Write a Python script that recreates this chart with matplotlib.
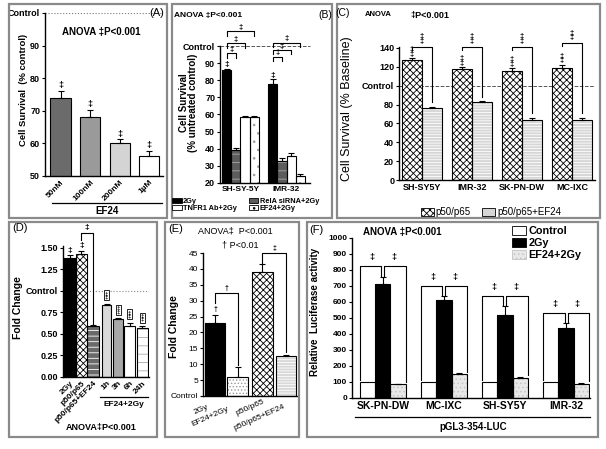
import numpy as np
import matplotlib
matplotlib.use("Agg")
import matplotlib.pyplot as plt
from matplotlib.patches import Rectangle, Patch
from matplotlib.lines import Line2D

plt.rcParams['font.family'] = ['Liberation Sans', 'DejaVu Sans']
plt.rcParams['font.weight'] = 'bold'
plt.rcParams['hatch.linewidth'] = 0.6
plt.rcParams['axes.linewidth'] = 1.0

W, H = 606, 449

# ---- data
a_labels = ['50nM', '100nM', '200nM', '1µM']
a_vals = [74, 68, 60.2, 56]
a_err = [2.0, 2.2, 1.0, 1.8]

b_groups = ['SH-SY-5Y', 'IMR-32']
b_series = ['2Gy', 'RelA siRNA+2Gy', 'TNFR1 Ab+2Gy', 'EF24+2Gy']
b_vals = [[86, 78], [39, 33], [58.8, 36], [58.7, 24]]
b_err = [[0.5, 2.5], [1.5, 1.5], [0.3, 1.8], [0.6, 1.0]]

c_groups = ['SH-SY5Y', 'IMR-32', 'SK-PN-DW', 'MC-IXC']
c_p65 = [127, 118, 115.5, 119]
c_p65_err = [2, 1.5, 3, 3]
c_ef24 = [76, 83, 63.5, 64]
c_ef24_err = [1.5, 0.5, 2, 2]

d_labels = ['2Gy', 'p50/p65', 'p50/p65+EF24', '1h', '3h', '6h', '24h']
d_vals = [1.38, 1.43, 0.59, 0.83, 0.67, 0.59, 0.57]
d_err = [0.03, 0.03, 0.01, 0.02, 0.01, 0.04, 0.02]

e_labels = ['2Gy', 'EF24+2Gy', 'p50/p65', 'p50/p65+EF24']
e_vals = [23, 6, 39, 12.7]
e_err = [2.5, 3, 2.5, 0.3]

f_groups = ['SK-PN-DW', 'MC-IXC', 'SH-SY5Y', 'IMR-32']
f_control = [100, 100, 100, 100]
f_2gy = [710, 610, 520, 440]
f_2gy_err = [45, 25, 55, 30]
f_ef24 = [85, 150, 128, 85]
f_ef24_err = [5, 5, 5, 10]

fig = plt.figure(figsize=(W / 100, H / 100), dpi=100)


def px_axes(x0, y0, x1, y1):
    return fig.add_axes([x0 / W, 1 - y1 / H, (x1 - x0) / W, (y1 - y0) / H])


def ftext(x, y, s, **kw):
    kw.setdefault('ha', 'center')
    kw.setdefault('va', 'center')
    fig.text(x / W, 1 - y / H, s, **kw)


def fline(x0, x1, y):
    fig.add_artist(Line2D([x0 / W, x1 / W], [1 - y / H, 1 - y / H], color='k', lw=0.9))


def panel_box(x0, y0, x1, y1):
    fig.add_artist(Rectangle((x0 / W, 1 - y1 / H), (x1 - x0) / W, (y1 - y0) / H,
                             fill=False, ec='#8a8a8a', lw=1.6))


def style(ax, size=6.5):
    for s in ['top', 'right']:
        ax.spines[s].set_visible(False)
    ax.tick_params(axis='y', length=2.5, width=0.8, labelsize=size, pad=1)
    ax.tick_params(axis='x', length=0, labelsize=size, pad=2)


def bars(ax, x, h, w, fc, hatch=None, hc='k', err=None):
    ax.bar(x, h, w, color=fc, hatch=hatch, edgecolor=hc, linewidth=0, zorder=2)
    ax.bar(x, h, w, fill=False, edgecolor='k', linewidth=0.8, zorder=3)
    if err is not None:
        ax.errorbar(x, h, yerr=[np.zeros(len(h)), err], fmt='none', ecolor='k',
                    elinewidth=0.8, capsize=2.5, capthick=0.8, zorder=4)


def bracket(ax, x0, x1, y, y0, y1, sym=None, fs=6, dy=0):
    ax.plot([x0, x0, x1, x1], [y0, y, y, y1], color='k', lw=0.8, clip_on=False)
    if sym:
        ax.text((x0 + x1) / 2, y + dy, sym, ha='center', va='bottom', fontsize=fs, clip_on=False)


CHECK = dict(fc='white', hatch='xxxxx', hc='k')

# ---------------- Panel A
panel_box(9, 4, 167, 218)
ax = px_axes(45, 13, 163, 176)
style(ax)
xa = np.arange(len(a_vals))
bars(ax, xa, a_vals, 0.68, ['#6b6b6b', '#9a9a9a', '#d4d4d4', 'white'], err=a_err)
for x, v, e in zip(xa, a_vals, a_err):
    ax.text(x, v + e + 0.3, '‡', ha='center', va='bottom', fontsize=6.5)
ax.axhline(100, color='#777', ls=':', lw=0.8, zorder=0)
ax.set_ylim(50, 100)
ax.set_xlim(-0.525, 3.47)
ax.set_yticks([50, 60, 70, 80, 90, 100], ['50', '60', '70', '80', '90', 'Control'])
ax.set_xticks(xa, a_labels, rotation=45, ha='right', rotation_mode='anchor', fontsize=6)
fline(52, 162, 203)
ftext(107, 211, 'EF24', fontsize=7)
ftext(101, 32, 'ANOVA ‡P<0.001', fontsize=7)
ftext(157, 13, '(A)', fontsize=8, weight='normal')
ftext(24, 90, 'Cell Survival  (% control)', rotation=90, fontsize=6.8)

# ---------------- Panel B
panel_box(172, 4, 332, 218)
ax = px_axes(220, 46, 310, 183)
style(ax)
b_style = [dict(fc='black'), dict(fc='#5c5c5c', hatch='--', hc='#a8a8a8'),
           dict(fc='white'), dict(fc='white', hatch='..', hc='#9a9a9a')]
for s, st in enumerate(b_style):
    bars(ax, [s, 5 + s], b_vals[s], 1.0, st['fc'], st.get('hatch'), st.get('hc', 'k'), err=b_err[s])
for g in range(2):
    ax.text(5 * g, b_vals[0][g] + b_err[0][g] + 0.5, '‡', ha='center', va='bottom', fontsize=6)
b_br = [[95.7, 101.6, 108.5], [93.7, 97.6, 102.0]]
for g in range(2):
    for k in range(3):
        y = b_br[g][k]
        bracket(ax, 5 * g, 5 * g + k + 1, y, y - 2.5, y - 2.5, '‡', fs=5.5, dy=0.3)
ax.axhline(100, color='#555', ls='--', lw=0.7, xmax=1.0, zorder=0, clip_on=False)
ax.set_ylim(20, 100)
ax.set_xlim(-0.72, 9.05)
ax.set_yticks(np.arange(20, 101, 10), [str(v) for v in range(20, 100, 10)] + ['Control'])
ax.set_xticks([1.5, 6.5], b_groups, fontsize=6)
h = [Patch(fc=st['fc'], hatch=st.get('hatch'), ec='k', lw=0.6) for st in b_style]
fig.legend([h[0], h[2], h[1], h[3]], [b_series[0], b_series[2], b_series[1], b_series[3]],
           loc='upper left', bbox_to_anchor=(172 / W, 1 - 198 / H), ncol=2, fontsize=5.3,
           frameon=False, handlelength=1.3, handleheight=0.6, labelspacing=0.05,
           columnspacing=1.6, borderpad=0, handletextpad=0.2, borderaxespad=0)
ftext(174, 15, 'ANOVA ‡P<0.001', fontsize=6, ha='left')
ftext(325, 15, '(B)', fontsize=7.5, weight='normal')
ftext(184, 103, 'Cell Survival', rotation=90, fontsize=7)
ftext(193, 103, '(% untreated control)', rotation=90, fontsize=7)

# ---------------- Panel C
panel_box(337, 4, 600, 218)
ax = px_axes(399, 47, 595, 180)
style(ax)
xc = np.arange(len(c_groups)) * 2.5
bars(ax, xc, c_p65, 1.0, CHECK['fc'], CHECK['hatch'], CHECK['hc'], err=c_p65_err)
bars(ax, xc + 1, c_ef24, 1.0, '#d6d6d6', '------', 'white', err=c_ef24_err)
c_br = [141, 141, 141, 145]
for i in range(len(c_groups)):
    top = c_p65[i] + c_p65_err[i]
    ax.text(xc[i], top + 0.5, '‡\n‡', ha='center', va='bottom', fontsize=5.5, linespacing=0.55)
    bracket(ax, xc[i], xc[i] + 1, c_br[i], c_br[i] - 3, c_ef24[i] + c_ef24_err[i] + 5)
    ax.text(xc[i] + 0.5, c_br[i] + 2, '‡\n‡', ha='center', va='bottom', fontsize=5.5,
            linespacing=0.55, clip_on=False)
ax.axhline(100, color='#555', ls='--', lw=0.7, zorder=0)
ax.set_ylim(0, 141)
ax.set_xlim(-0.65, 9.15)
ax.set_yticks(np.arange(0, 141, 20), ['0', '20', '40', '60', '80', 'Control', '120', '140'])
ax.set_xticks(xc + 0.5, c_groups, fontsize=6.5)
hc = [Patch(fc='white', hatch='xxxxx', ec='k', lw=0.6), Patch(fc='#d6d6d6', ec='k', lw=0.6)]
fig.legend(hc, ['p50/p65', 'p50/p65+EF24'], loc='center left',
           bbox_to_anchor=(421 / W, 1 - 212 / H), ncol=2, prop={'weight': 'normal', 'size': 7},
           frameon=False, handlelength=1.3, handleheight=0.9, columnspacing=1.2,
           borderpad=0, handletextpad=0.2, borderaxespad=0)
ftext(378, 15, 'ANOVA', fontsize=5.5)
ftext(430, 15, '‡P<0.001', fontsize=6.5)
ftext(343, 13, '(C)', fontsize=7.5, weight='normal')
ftext(347, 109, 'Cell Survival (% Baseline)', rotation=90, fontsize=9, weight='normal')

# ---------------- Panel D
panel_box(9, 222, 157, 437)
ax = px_axes(63, 246, 149, 377)
style(ax)
xd = np.array([0, 1, 2, 3.2, 4.2, 5.2, 6.3])
wd = [1, 1, 1, 0.8, 0.88, 0.95, 0.95]
d_style = [('black', None, 'k'), ('white', 'xxxxx', 'k'), ('#6a6a6a', '---', 'white'),
           ('#d9d9d9', None, 'k'), ('#a8a8a8', None, 'k'), ('white', None, 'k'),
           ('white', '--', '#aaaaaa')]
for i in range(len(d_vals)):
    fc, ht, hcol = d_style[i]
    bars(ax, [xd[i]], [d_vals[i]], wd[i], fc, ht, hcol, err=[d_err[i]])
for i in (0, 1):
    ax.text(xd[i], d_vals[i] + d_err[i] + 0.02, '‡', ha='center', va='bottom', fontsize=6)
bracket(ax, xd[1], xd[2], 1.67, 1.59, d_vals[2] + 0.03, '‡', fs=6, dy=0.02)
for i in range(3, 7):
    ax.text(xd[i], d_vals[i] + d_err[i] + 0.05, '‡\n‡', ha='center', va='bottom', fontsize=4.5,
            linespacing=0.55, bbox=dict(boxstyle='square,pad=0.15', fc='white', ec='k', lw=0.6))
ax.axhline(1.0, color='#888', ls=':', lw=0.8, zorder=0)
ax.set_ylim(0, 1.52)
ax.set_xlim(-0.59, 6.87)
ax.set_yticks([0, 0.25, 0.5, 0.75, 1.0, 1.25, 1.5],
              ['0.00', '0.25', '0.50', '0.75', 'Control', '1.25', '1.50'])
ax.set_xticks(xd, d_labels, rotation=45, ha='right', rotation_mode='anchor', fontsize=6)
fline(100, 148, 397)
ftext(124, 404, 'EF24+2Gy', fontsize=6)
ftext(101, 427, 'ANOVA‡P<0.001', fontsize=6.5)
ftext(20, 228, '(D)', fontsize=8, weight='normal')
ftext(18, 308, 'Fold Change', rotation=90, fontsize=7.5)

# ---------------- Panel E
panel_box(165, 222, 299, 437)
ax = px_axes(203, 253, 298, 396)
style(ax, size=6)
xe = np.array([0, 1.05, 2.2, 3.3])
e_style = [('black', None, 'k'), ('white', '.....', '#9a9a9a'), ('white', 'xxxxx', 'k'),
           ('#d8d8d8', '------', 'white')]
for i in range(len(e_vals)):
    fc, ht, hcol = e_style[i]
    bars(ax, [xe[i]], [e_vals[i]], 0.95, fc, ht, hcol, err=[e_err[i]])
ax.text(xe[0], e_vals[0] + e_err[0] + 0.5, '†', ha='center', va='bottom', fontsize=5)
bracket(ax, xe[0], xe[1], 32.5, 29.3, e_vals[1] + e_err[1] + 0.8, '†', fs=5, dy=0.3)
bracket(ax, xe[2], xe[3], 45, 41.8, e_vals[3] + e_err[3] + 0.9, '‡', fs=5, dy=0.3)
ax.set_ylim(0, 45)
ax.set_xlim(-0.56, 3.86)
ax.set_yticks(np.arange(0, 46, 5), ['Control'] + [str(v) for v in range(5, 46, 5)],
              fontweight='normal')
ax.set_xticks([])
# label anchors (top-right corner of each rotated label), axes-fraction below the axis
e_lab_dx = [-0.37, 0.56, 2.23, 3.16]
e_lab_dy = [0.05, 0.065, 0.015, 0.05]
for i, lab in enumerate(e_labels):
    ax.text(e_lab_dx[i], -e_lab_dy[i], lab, transform=ax.get_xaxis_transform(),
            rotation=24, ha='right', va='top', rotation_mode='anchor', fontsize=6,
            weight='normal')
ftext(198, 231, 'ANOVA‡  P<0.001', fontsize=6.5, ha='left', weight='normal')
ftext(222, 245, '† P<0.01', fontsize=6.5, ha='left', weight='normal')
ftext(176, 229, '(E)', fontsize=8, weight='normal')
ftext(174, 327, 'Fold Change', rotation=90, fontsize=7.5)

# ---------------- Panel F
panel_box(307, 222, 598, 437)
ax = px_axes(352, 238, 590, 398)
style(ax, size=6)
xf = np.arange(len(f_groups)) * 4
bars(ax, xf, f_control, 1.0, 'white')
bars(ax, xf + 1, f_2gy, 1.0, 'black', err=f_2gy_err)
bars(ax, xf + 2, f_ef24, 1.0, '#e8e8e8', '....', '#c4c4c4', err=f_ef24_err)
f_br = [823, 698, 635, 531]
for i in range(len(f_groups)):
    y = f_br[i]
    stub = f_2gy[i] + f_2gy_err[i] + 5
    bracket(ax, xf[i] - 0.5, xf[i] + 0.9, y, f_control[i] + 10, stub)
    bracket(ax, xf[i] + 1.1, xf[i] + 2.5, y, stub, f_ef24[i] + f_ef24_err[i] + 10)
    ax.text(xf[i] + 0.3, y + 25, '‡', ha='center', va='bottom', fontsize=6.5)
    ax.text(xf[i] + 1.7, y + 25, '‡', ha='center', va='bottom', fontsize=6.5)
ax.set_ylim(0, 1000)
ax.set_xlim(-1.02, 14.57)
ax.set_yticks(np.arange(0, 1001, 100))
ax.set_xticks(xf + 1, f_groups, fontsize=7.5)
hf = [Patch(fc='white', ec='k', lw=0.6), Patch(fc='black', ec='k', lw=0.6),
      Patch(fc='#e8e8e8', hatch='....', ec='#c4c4c4', lw=0.6)]
fig.legend(hf, ['Control', '2Gy', 'EF24+2Gy'], loc='upper left',
           bbox_to_anchor=(512 / W, 1 - 226 / H), fontsize=7.8, frameon=False,
           handlelength=1.3, handleheight=0.9, labelspacing=0.15, borderpad=0,
           handletextpad=0.2, borderaxespad=0)
fline(355, 590, 417)
ftext(473, 427, 'pGL3-354-LUC', fontsize=7)
ftext(402, 232, 'ANOVA ‡P<0.001', fontsize=7)
ftext(316, 230, '(F)', fontsize=8, weight='normal')
ftext(315, 312, 'Relative  Luciferase activity', rotation=90, fontsize=7)

fig.savefig('out.png', dpi=100)
